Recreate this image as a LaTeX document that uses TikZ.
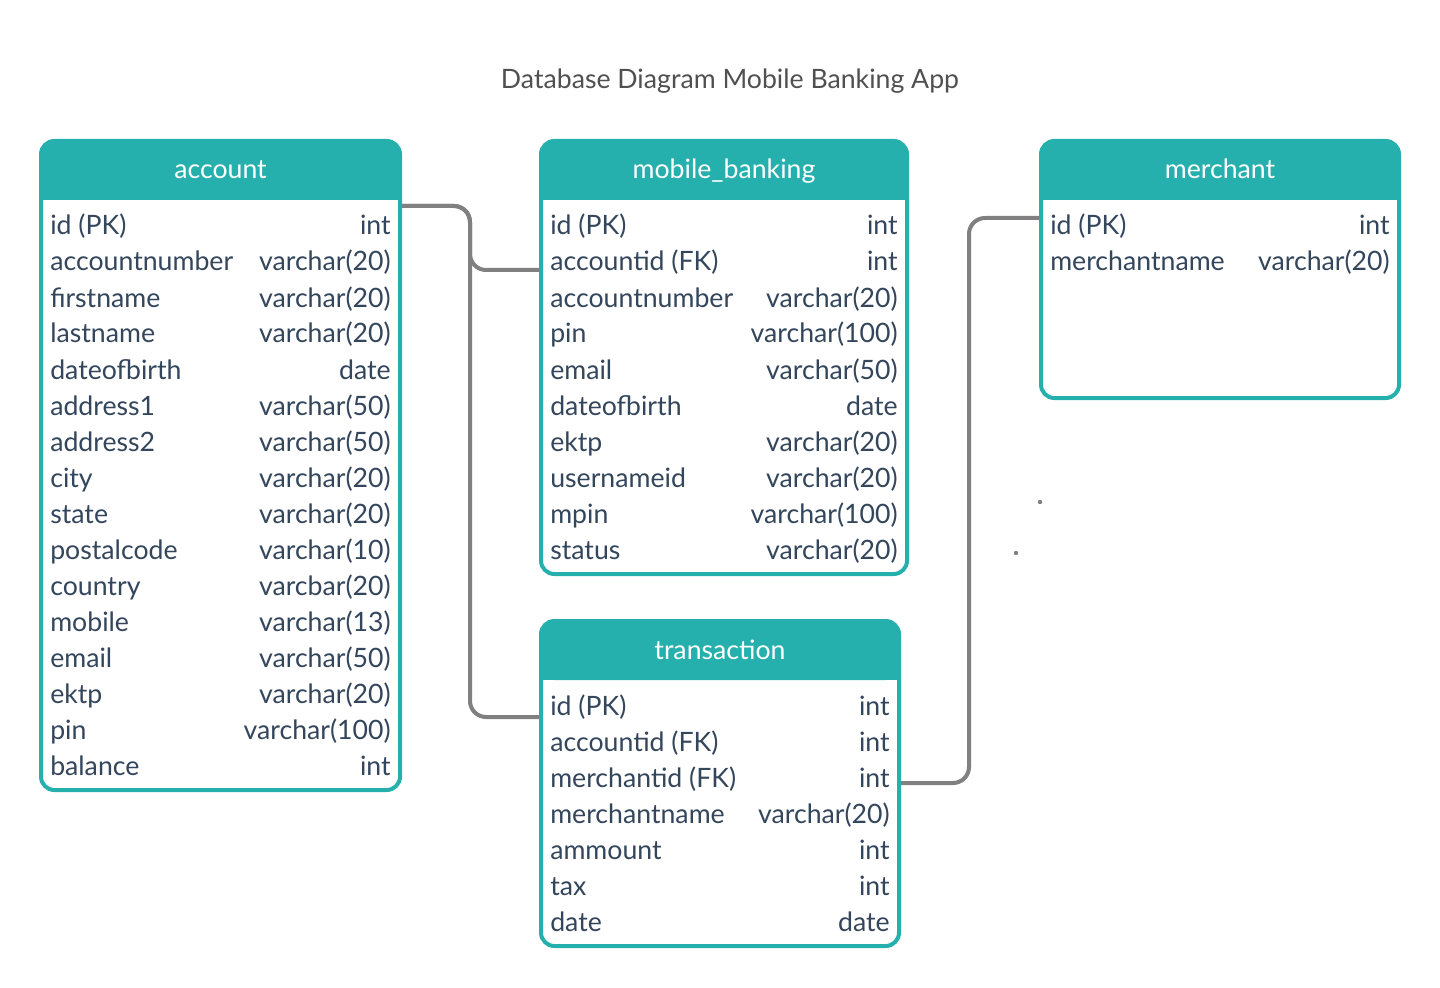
\documentclass[tikz,border=0pt]{standalone}
\usepackage{fontspec}
\setmainfont{Lato}
\definecolor{teal1}{HTML}{25B0AE}
\definecolor{fieldtext}{HTML}{34465C}
\definecolor{linegray}{HTML}{808080}
\definecolor{titlegray}{HTML}{505050}
\newcommand\dbtable[7]{% name, x1, x2, ytop, ybottom, title, firstrow y
  \fill[white] (#2,#4) rectangle (#3,#5);
  \fill[teal1,rounded corners=10] (#2,#4) rectangle (#3,#4+59);
  \fill[teal1] (#2,#4+30) rectangle (#3,#4+59);
  \draw[tableborder] (#2,#4) rectangle (#3,#5);
  \node[hdrtext] (#1-title) at (#2/2+#3/2,#4+38) {#6};
}
\newcommand\dbrows[5]{% name, x1, x2, first y, list
  \foreach \f/\t [count=\i from 0] in {#5} {
    \node[fieldl] (#1-f\i) at (#2+9,#4+10+36*\i) {\f};
    \node[fieldr] (#1-t\i) at (#3-9,#4+10+36*\i) {\t};
  }
}
\begin{document}
\begin{tikzpicture}[x=0.75pt,y=-0.75pt,
  tableborder/.style={draw=teal1,line width=3pt,rounded corners=10},
  hdrtext/.style={anchor=base,text=white,font=\fontsize{20}{22}\selectfont,inner sep=0pt},
  fieldl/.style={anchor=base west,text=fieldtext,font=\fontsize{20}{22}\selectfont,inner sep=0pt},
  fieldr/.style={anchor=base east,text=fieldtext,font=\fontsize{20}{22}\selectfont,inner sep=0pt},
  conn/.style={draw=linegray,line width=3pt,rounded corners=12},
  titletext/.style={anchor=base,text=titlegray,font=\fontsize{20}{22}\selectfont,inner sep=0pt}]
\useasboundingbox[fill=white] (0,0) rectangle (1440,988);
\node[titletext] (title) at (730,89) {Database Diagram Mobile Banking App};

% connectors
\coordinate (accout) at (401,206);
\coordinate (mbin) at (540,270);
\coordinate (trin) at (540,717);
\coordinate (trout) at (900,783);
\coordinate (mein) at (1040,218);
\draw[conn] (accout) -- (470,206) -- (470,270) -- (mbin);
\draw[conn] (accout) -- (470,206) -- (470,717) -- (trin);
\draw[conn] (trout) -- (969,783) -- (969,218) -- (mein);

\dbtable{account}{41}{400}{141}{790}{account}{225}
\dbrows{account}{41}{400}{225}{id (PK)/int,accountnumber/varchar(20),firstname/varchar(20),lastname/varchar(20),dateofbirth/date,address1/varchar(50),address2/varchar(50),city/varchar(20),state/varchar(20),postalcode/varchar(10),country/varcbar(20),mobile/varchar(13),email/varchar(50),ektp/varchar(20),pin/varchar(100),balance/int}

\dbtable{mobile}{541}{907}{141}{574}{mobile\_banking}{225}
\dbrows{mobile}{541}{907}{225}{id (PK)/int,accountid (FK)/int,accountnumber/varchar(20),pin/varchar(100),email/varchar(50),dateofbirth/date,ektp/varchar(20),usernameid/varchar(20),mpin/varchar(100),status/varchar(20)}

\dbtable{merchant}{1041}{1399}{141}{398}{merchant}{225}
\dbrows{merchant}{1041}{1399}{225}{id (PK)/int,merchantname/varchar(20)}

\dbtable{transaction}{541}{899}{621}{946}{transaction}{705}
\dbrows{transaction}{541}{899}{705}{id (PK)/int,accountid (FK)/int,merchantid (FK)/int,merchantname/varchar(20),ammount/int,tax/int,date/date}

\fill[linegray] (1040,502) circle (2.2);
\fill[linegray] (1016,553) circle (2.2);
\end{tikzpicture}
\end{document}
